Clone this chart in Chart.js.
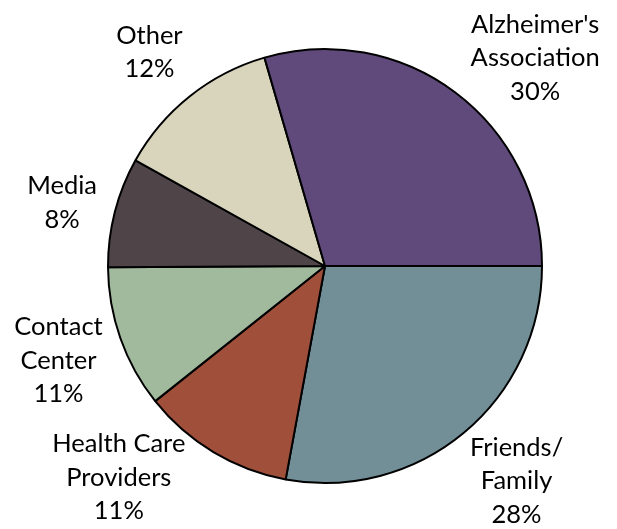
<!DOCTYPE html>
<html>
<head>
<meta charset="utf-8">
<script src="https://cdn.jsdelivr.net/npm/chart.js@4"></script>
<style>
  html, body { margin: 0; padding: 0; background: #fff; }
  #wrap { width: 617px; height: 529px; }
</style>
</head>
<body>
<div id="wrap"><canvas id="pie" width="617" height="529"></canvas></div>
<script>
// data, clockwise from 3 o'clock
var categories = [['Friends/', 'Family'], ['Health Care', 'Providers'], ['Contact', 'Center'], ['Media'], ['Other'], ["Alzheimer's", 'Association']]
var shares = [27.9, 11.4, 10.6, 8.2, 12.4, 29.5]   // slice sizes as measured
var pctLabels = ['28%', '11%', '11%', '8%', '12%', '30%']   // printed labels
var sliceColors = ['#728F98', '#A0503A', '#A1BA9E', '#4F4448', '#D9D5BC', '#604A7B']

// nudges for each outside label (Excel "best fit" moves a couple of them)
var labelNudge = [[6, -8], [-57, -37], [7, -2], [18, 9], [5, 13], [36, 24]]

var outsideLabels = {
  id: 'outsideLabels',
  afterDatasetsDraw(chart) {
    var ctx = chart.ctx
    var meta = chart.getDatasetMeta(0)
    ctx.save()
    ctx.font = '25.5px Lato'
    ctx.fillStyle = '#000'
    ctx.textAlign = 'center'
    ctx.textBaseline = 'middle'
    meta.data.forEach(function(arc, i) {
      var p = arc.getProps(['x', 'y', 'startAngle', 'endAngle', 'outerRadius'], true)
      var mid = (p.startAngle + p.endAngle) / 2
      var d = p.outerRadius + 73
      var cx = p.x + Math.cos(mid) * d + labelNudge[i][0]
      var cy = p.y + Math.sin(mid) * d + labelNudge[i][1]
      var lines = categories[i].concat([pctLabels[i]])
      var lh = 33.5
      var top = cy - (lines.length - 1) * lh / 2
      lines.forEach(function(t, j) {
        ctx.fillText(t, cx, top + j * lh)
      })
    })
    ctx.restore()
  }
}

let ctx = document.getElementById('pie').getContext('2d')

let pieChart = new Chart(ctx, {
  type: 'pie',
  data: {
    labels: categories.map(function(c) { return c.join(' ') }),
    datasets: [{
      data: shares,
      backgroundColor: sliceColors,
      borderColor: '#000',
      borderWidth: 2,
      borderAlign: 'center'
    }]
  },
  options: {
    responsive: false,
    animation: false,
    rotation: 90,
    layout: { padding: { top: 48, bottom: 45, left: 107, right: 74 } },
    plugins: {
      legend: { display: false },
      tooltip: { enabled: false }
    }
  },
  plugins: [outsideLabels]
})
</script>
</body>
</html>
